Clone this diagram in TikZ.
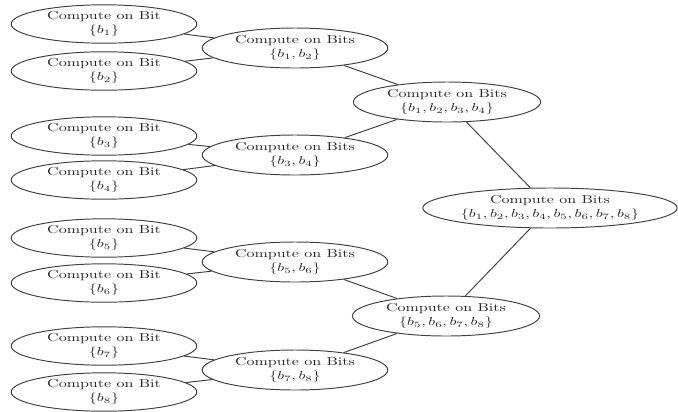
\documentclass[tikz,border=0pt]{standalone}
\usepackage{graphicx}
\usetikzlibrary{shapes.geometric}

% two-line label, flattened vertically
\newcommand\twoline[2]{\scalebox{1}[0.72]{\shortstack{#1\\#2}}}

\tikzset{
  bitbox/.style={ellipse, draw=black!75, line width=0.6pt, inner sep=0pt,
    minimum width=116pt, minimum height=24pt, text=black!85},
  pairbox/.style={bitbox, minimum height=25pt},
  rootbox/.style={bitbox, minimum width=159pt, minimum height=25pt},
  link/.style={draw=black!75, line width=0.6pt},
  txt/.style={label={[text=black!85, inner sep=0pt]center:#1}}
}

\begin{document}
\begin{tikzpicture}[x=0.625pt, y=-0.625pt]
  \useasboundingbox (0,0) rectangle (678,411);

  % single bits
  \node[bitbox, txt={\twoline{Compute on Bit}{$\{b_1\}$}}] (b1) at (104,24) {};
  \node[bitbox, txt={\twoline{Compute on Bit}{$\{b_2\}$}}] (b2) at (104,71) {};
  \node[bitbox, txt={\twoline{Compute on Bit}{$\{b_3\}$}}] (b3) at (104,136) {};
  \node[bitbox, txt={\twoline{Compute on Bit}{$\{b_4\}$}}] (b4) at (104,180) {};
  \node[bitbox, txt={\twoline{Compute on Bit}{$\{b_5\}$}}] (b5) at (104,238) {};
  \node[bitbox, txt={\twoline{Compute on Bit}{$\{b_6\}$}}] (b6) at (104,283) {};
  \node[bitbox, txt={\twoline{Compute on Bit}{$\{b_7\}$}}] (b7) at (104,346) {};
  \node[bitbox, txt={\twoline{Compute on Bit}{$\{b_8\}$}}] (b8) at (104,392) {};

  % pairs
  \node[pairbox, txt={\twoline{Compute on Bits}{$\{b_1,b_2\}$}}] (b12) at (295,48) {};
  \node[pairbox, txt={\twoline{Compute on Bits}{$\{b_3,b_4\}$}}] (b34) at (295,155) {};
  \node[pairbox, txt={\twoline{Compute on Bits}{$\{b_5,b_6\}$}}] (b56) at (295,262) {};
  \node[pairbox, txt={\twoline{Compute on Bits}{$\{b_7,b_8\}$}}] (b78) at (295,370) {};

  % quadruples
  \node[pairbox, minimum width=117pt, txt={\twoline{Compute on Bits}{$\{b_1,b_2,b_3,b_4\}$}}] (b1234) at (447,102) {};
  \node[pairbox, minimum width=117pt, txt={\twoline{Compute on Bits}{$\{b_5,b_6,b_7,b_8\}$}}] (b5678) at (446,316) {};

  % all eight bits
  \node[rootbox, txt={\twoline{Compute on Bits}{$\{b_1,b_2,b_3,b_4,b_5,b_6,b_7,b_8\}$}}] (root) at (550,208) {};

  % connections
  \path[link] (b1) -- (b12)  (b2) -- (b12)
              (b3) -- (b34)  (b4) -- (b34)
              (b5) -- (b56)  (b6) -- (b56)
              (b7) -- (b78)  (b8) -- (b78)
              (b12) -- (b1234)  (b34) -- (b1234)
              (b56) -- (b5678)  (b78) -- (b5678)
              (b1234) -- (root) (b5678) -- (root);
\end{tikzpicture}
\end{document}
